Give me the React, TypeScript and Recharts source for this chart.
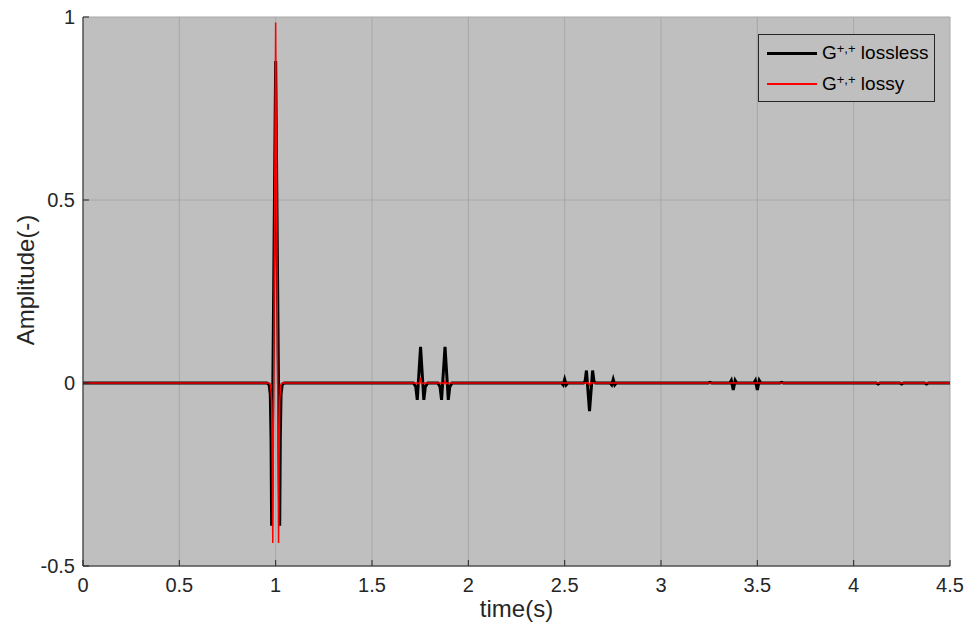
import React from 'react';
import { LineChart, Line, XAxis, YAxis, CartesianGrid, Legend } from 'recharts';

const xTicks = [0, 0.5, 1, 1.5, 2, 2.5, 3, 3.5, 4, 4.5];
const yTicks = [-0.5, 0, 0.5, 1];

const seriesNames = ['lossless', 'lossy'];

// [time (s), amplitude]
const losslessPoints: [number, number][] = [
  [0, 0],
  [0.955, 0],
  [0.966, -0.004],
  [0.972, -0.03],
  [0.976, -0.15],
  [0.979, -0.39],
  [1.0, 0.88],
  [1.021, -0.39],
  [1.024, -0.15],
  [1.028, -0.03],
  [1.034, -0.004],
  [1.045, 0],
  [1.715, 0],
  [1.727, -0.01],
  [1.735, -0.046],
  [1.752, 0.099],
  [1.769, -0.046],
  [1.777, -0.01],
  [1.79, 0],
  [1.842, 0],
  [1.853, -0.01],
  [1.861, -0.046],
  [1.879, 0.099],
  [1.896, -0.046],
  [1.904, -0.01],
  [1.916, 0],
  [2.484, 0],
  [2.492, -0.005],
  [2.5, 0.01],
  [2.508, -0.005],
  [2.516, 0],
  [2.598, 0],
  [2.606, 0.005],
  [2.613, 0.034],
  [2.629, -0.077],
  [2.645, 0.034],
  [2.652, 0.005],
  [2.66, 0],
  [2.736, 0],
  [2.744, -0.005],
  [2.752, 0.01],
  [2.76, -0.005],
  [2.768, 0],
  [3.245, 0],
  [3.254, 0.002],
  [3.263, 0],
  [3.357, 0],
  [3.365, 0.007],
  [3.375, -0.019],
  [3.385, 0.007],
  [3.393, 0],
  [3.482, 0],
  [3.49, 0.007],
  [3.5, -0.019],
  [3.51, 0.007],
  [3.518, 0],
  [3.617, 0],
  [3.626, 0.002],
  [3.635, 0],
  [4.117, 0],
  [4.127, -0.003],
  [4.137, 0],
  [4.239, 0],
  [4.249, -0.003],
  [4.259, 0],
  [4.368, 0],
  [4.378, -0.003],
  [4.388, 0],
  [4.5, 0],
];

const lossyPoints: [number, number][] = [
  [0, 0],
  [0.965, 0],
  [0.974, -0.006],
  [0.979, -0.05],
  [0.982, -0.2],
  [0.985, -0.437],
  [1.0, 0.985],
  [1.015, -0.437],
  [1.018, -0.2],
  [1.021, -0.05],
  [1.026, -0.006],
  [1.035, 0],
  [1.738, 0],
  [1.746, -0.003],
  [1.752, 0.015],
  [1.758, -0.003],
  [1.766, 0],
  [1.865, 0],
  [1.873, -0.002],
  [1.879, 0.005],
  [1.885, -0.002],
  [1.893, 0],
  [2.615, 0],
  [2.622, 0.001],
  [2.629, -0.006],
  [2.636, 0.001],
  [2.643, 0],
  [4.5, 0],
];

const losslessRows = losslessPoints.map(([t, v]) => ({ t, v }));
const lossyRows = lossyPoints.map(([t, v]) => ({ t, v }));

const FONT = '"Liberation Sans", Arial, Helvetica, sans-serif';
const AXIS = '#262626';

const LegendBox = () => {
  const row = (color: string, thick: number, name: string, top: number) => (
    <div style={{ position: 'absolute', left: 0, top, height: 24, width: '100%' }}>
      <div
        style={{
          position: 'absolute',
          left: 8,
          top: 12 - thick / 2,
          width: 50,
          height: thick,
          background: color,
        }}
      />
      <div
        style={{
          position: 'absolute',
          left: 63,
          top: 0,
          lineHeight: '24px',
          fontSize: 19,
          whiteSpace: 'nowrap',
          color: '#000',
        }}
      >
        G<sup style={{ fontSize: 13, verticalAlign: 'top', position: 'relative', top: -4 }}>+,+</sup> {name}
      </div>
    </div>
  );
  return (
    <div
      style={{
        position: 'relative',
        width: 177,
        height: 68,
        boxSizing: 'border-box',
        border: `1px solid ${AXIS}`,
        background: '#bfbfbf',
        fontFamily: FONT,
      }}
    >
      {row('#000000', 3, seriesNames[0], 6)}
      {row('#ff0000', 1.5, seriesNames[1], 37)}
    </div>
  );
};

export default function App() {
  return (
    <div style={{ position: 'absolute', left: 0, top: 0, width: 970, height: 632, background: '#fff' }}>
      <LineChart
        width={970}
        height={632}
        margin={{ top: 17, right: 20, bottom: 15, left: 23 }}
        style={{ fontFamily: FONT }}
      >
        <CartesianGrid fill="#bfbfbf" fillOpacity={1} stroke="#a8a8a8" strokeWidth={1} />
        <XAxis
          dataKey="t"
          type="number"
          domain={[0, 4.5]}
          ticks={xTicks}
          allowDataOverflow
          height={51}
          stroke={AXIS}
          tickSize={-6}
          tickMargin={18}
          tick={{ fill: AXIS, fontSize: 20, fontFamily: FONT }}
          label={() => (
            <text x={516.5} y={617} textAnchor="middle" fill={AXIS} fontSize={24} fontFamily={FONT}>
              time(s)
            </text>
          )}
        />
        <XAxis
          xAxisId="top"
          orientation="top"
          type="number"
          domain={[0, 4.5]}
          ticks={xTicks}
          height={0}
          mirror
          tick={false}
          tickSize={6}
          stroke={AXIS}
        />
        <YAxis
          type="number"
          domain={[-0.5, 1]}
          ticks={yTicks}
          allowDataOverflow
          width={60}
          stroke={AXIS}
          tickSize={-6}
          tickMargin={14}
          tick={{ fill: AXIS, fontSize: 20, fontFamily: FONT }}
          label={() => (
            <text
              x={34}
              y={280}
              transform="rotate(-90 34 280)"
              textAnchor="middle"
              fill={AXIS}
              fontSize={24}
              fontFamily={FONT}
            >
              Amplitude(-)
            </text>
          )}
        />
        <YAxis
          yAxisId="right"
          orientation="right"
          type="number"
          domain={[-0.5, 1]}
          ticks={yTicks}
          width={0}
          mirror
          tick={false}
          tickSize={6}
          stroke={AXIS}
        />
        <Legend
          layout="vertical"
          align="center"
          verticalAlign="middle"
          wrapperStyle={{ left: 758, top: 34, width: 177, height: 68 }}
          content={() => <LegendBox />}
        />
        <Line
          data={losslessRows}
          dataKey="v"
          type="linear"
          stroke="#000000"
          strokeWidth={3}
          dot={false}
          activeDot={false}
          isAnimationActive={false}
        />
        <Line
          data={lossyRows}
          dataKey="v"
          type="linear"
          stroke="#ff0000"
          strokeWidth={1.5}
          dot={false}
          activeDot={false}
          isAnimationActive={false}
        />
      </LineChart>
    </div>
  );
}
